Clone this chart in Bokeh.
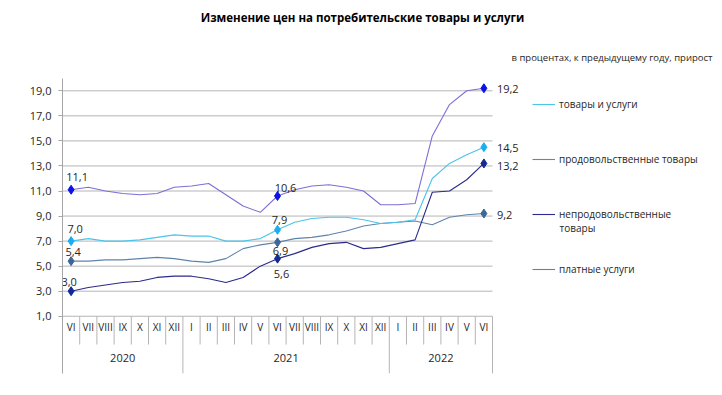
from bokeh.plotting import figure
from bokeh.models import (Range1d, FixedTicker, Label, Legend, LegendItem,
                          CustomJSTickFormatter)
from bokeh.core.properties import value
from bokeh.embed import file_html
from bokeh.resources import INLINE

# ---------------- data ----------------
months = ["VI", "VII", "VIII", "IX", "X", "XI", "XII",
          "I", "II", "III", "IV", "V", "VI", "VII", "VIII", "IX", "X", "XI", "XII",
          "I", "II", "III", "IV", "V", "VI"]
years = ["2020"] * 7 + ["2021"] * 12 + ["2022"] * 6
tick_values = [1.0, 3.0, 5.0, 7.0, 9.0, 11.0, 13.0, 15.0, 17.0, 19.0]

goods_services = [7.0, 7.2, 7.0, 7.0, 7.1, 7.3, 7.5, 7.4, 7.4, 7.0, 7.0, 7.2,
                  7.9, 8.5, 8.8, 8.9, 8.9, 8.7, 8.4, 8.5, 8.7, 12.0, 13.2, 13.9, 14.5]
food = [11.1, 11.3, 11.0, 10.8, 10.7, 10.8, 11.3, 11.4, 11.6, 10.7, 9.8, 9.3,
        10.6, 11.1, 11.4, 11.5, 11.3, 11.0, 9.9, 9.9, 10.0, 15.4, 17.9, 19.0, 19.2]
nonfood = [3.0, 3.3, 3.5, 3.7, 3.8, 4.1, 4.2, 4.2, 4.0, 3.7, 4.1, 5.0,
           5.6, 6.0, 6.5, 6.8, 6.9, 6.4, 6.5, 6.8, 7.1, 10.9, 11.0, 11.9, 13.2]
paid_services = [5.4, 5.4, 5.5, 5.5, 5.6, 5.7, 5.6, 5.4, 5.3, 5.6, 6.4, 6.7,
                 6.9, 7.2, 7.3, 7.5, 7.8, 8.2, 8.4, 8.5, 8.6, 8.3, 8.9, 9.1, 9.2]

series_names = ["товары и услуги", "продовольственные товары",
                "непродовольственные товары", "платные услуги"]
labelled_points = [0, 12, 24]

title_text = "Изменение цен на потребительские товары и услуги"
subtitle_text = "в процентах, к предыдущему году, прирост"

# ---------------- style / layout ----------------
FONT = "Open Sans"
TXT = "#262626"
GRID = "#b5b5b5"
W, H = 720, 392
FRAME_L, FRAME_R, FRAME_T, FRAME_B = 62, 714, 0, 373   # canvas px
PX_CAT = 17.2          # px per category
PX_UNIT = 12.525       # px per y unit
Y1_PX = 315.75         # canvas px of the lowest tick
line_colors = ["#4cc3ea", "#7b70d4", "#2c2a8a", "#5f84ab"]
marker_colors = ["#1aaef0", "#0b12e6", "#132a96", "#3c6898"]

# label offsets in px (dx, dy) per series for points 0, 12, 24
label_offsets = [
    [(4, -12), (2, -10), (13, 1)],
    [(6, -13), (8, -8), (13, 1)],
    [(-2, -9), (4, 15), (13, 3)],
    [(2, -9), (3, 9), (13, 1)],
]


def ypx(py):
    """canvas pixel row -> data y"""
    return tick_values[0] + (Y1_PX - py) / PX_UNIT


def xpx(px):
    """canvas pixel column -> data x"""
    return -0.5 + (px - FRAME_L) / PX_CAT


n = len(months)
xs = list(range(n))
y_axis_top = tick_values[-1] + 1
x_left, x_right = xpx(FRAME_L), xpx(FRAME_R)
y_bottom, y_top = ypx(FRAME_B), ypx(FRAME_T)

p = figure(width=W, height=H, output_backend="svg", toolbar_location=None,
           x_range=Range1d(x_left, x_right), y_range=Range1d(y_bottom, y_top),
           x_axis_type=None, min_border_left=FRAME_L, min_border_top=FRAME_T,
           min_border_right=W - FRAME_R, min_border_bottom=H - FRAME_B)
p.outline_line_color = None
p.ygrid.visible = False
p.background_fill_color = "white"
p.border_fill_color = "white"

ax = p.yaxis[0]
ax.bounds = (y_bottom, y_axis_top)
ax.ticker = FixedTicker(ticks=tick_values)
ax.formatter = CustomJSTickFormatter(code="return tick.toFixed(1).replace('.', ',');")
ax.axis_line_color = "#a6a6a6"
ax.major_tick_line_color = "#a6a6a6"
ax.major_tick_out = 4
ax.major_tick_in = 0
ax.minor_tick_line_color = None
ax.major_label_text_font = FONT
ax.major_label_text_font_size = "11px"
ax.major_label_text_color = TXT
ax.major_label_standoff = 7

# horizontal gridlines across the category area
p.segment(x0=[x_left] * len(tick_values), x1=[n - 0.5] * len(tick_values),
          y0=tick_values, y1=tick_values, line_color=GRID, line_width=1)

# category axis: separators and labels
MONTH_ROW = ypx(326)
MONTH_SEP_BOTTOM = ypx(344)
YEAR_ROW = ypx(357)
month_sep_x, year_sep_x = [], []
for i in range(n):
    if i == n - 1 or years[i] != years[i + 1]:
        year_sep_x.append(i + 0.5)
    else:
        month_sep_x.append(i + 0.5)
p.segment(x0=month_sep_x, x1=month_sep_x, y0=[tick_values[0]] * len(month_sep_x),
          y1=[MONTH_SEP_BOTTOM] * len(month_sep_x), line_color=GRID, line_width=1)
p.segment(x0=year_sep_x, x1=year_sep_x, y0=[tick_values[0]] * len(year_sep_x),
          y1=[y_bottom] * len(year_sep_x), line_color=GRID, line_width=1)
p.text(x=xs, y=[MONTH_ROW] * n, text=months, text_align="center",
       text_baseline="middle", text_font=value(FONT), text_font_size="10px",
       text_color=TXT)
year_names = []
for yv in years:
    if yv not in year_names:
        year_names.append(yv)
year_centers = [sum(i for i in xs if years[i] == yv) / years.count(yv) for yv in year_names]
p.text(x=year_centers, y=[YEAR_ROW] * len(year_names), text=year_names,
       text_align="center", text_baseline="middle", text_font=value(FONT),
       text_font_size="11px", text_color=TXT)

# series
all_series = [goods_services, food, nonfood, paid_services]
draw_order = [3, 2, 0, 1]
rend_by_idx = {}
for k in draw_order:
    rend_by_idx[k] = p.line(xs, all_series[k], line_color=line_colors[k], line_width=1.1)
for k in range(4):
    vals = all_series[k]
    px_ = [xs[i] for i in labelled_points]
    py_ = [vals[i] for i in labelled_points]
    p.scatter(px_, py_, marker="diamond", size=9, fill_color=marker_colors[k],
              line_color=marker_colors[k])
    texts = [f"{v:.1f}".replace(".", ",") for v in py_]
    aligns = ["center", "center", "left"]
    for j in range(len(px_)):
        dx, dy = label_offsets[k][j]
        p.text(x=[px_[j]], y=[py_[j]], text=[texts[j]], x_offset=dx, y_offset=dy,
               text_align=aligns[j], text_baseline="middle", text_font=value(FONT),
               text_font_size="11px", text_color=TXT)

# legend (location = bottom-left corner, px from frame bottom-left)
legend_labels = ["товары и услуги", "продовольственные товары",
                 "непродовольственные", "платные услуги"]
items = [LegendItem(label=legend_labels[k], renderers=[rend_by_idx[k]]) for k in range(4)]
legend = Legend(items=items, location=(532 - FRAME_L, FRAME_B - 279), orientation="vertical",
                spacing=35, glyph_height=20, glyph_width=23, label_height=20,
                label_standoff=4, padding=0, margin=0, border_line_color=None,
                background_fill_alpha=0, label_text_font=FONT,
                label_text_font_size="10px", label_text_color=TXT)
p.add_layout(legend)
p.add_layout(Label(x=xpx(559), y=ypx(227), text="товары",
                   text_font=FONT, text_font_size="10px", text_color=TXT,
                   text_baseline="middle"))

# title & subtitle
p.add_layout(Label(x=xpx(362), y=ypx(17), text=title_text,
                   text_font=FONT, text_font_size="11.5px", text_font_style="bold",
                   text_color="#000000", text_align="center", text_baseline="middle"))
p.add_layout(Label(x=xpx(712), y=ypx(57), text=subtitle_text,
                   text_font=FONT, text_font_size="9.5px", text_color=TXT,
                   text_align="right", text_baseline="middle"))

open("out.html", "w").write(file_html(p, INLINE))
